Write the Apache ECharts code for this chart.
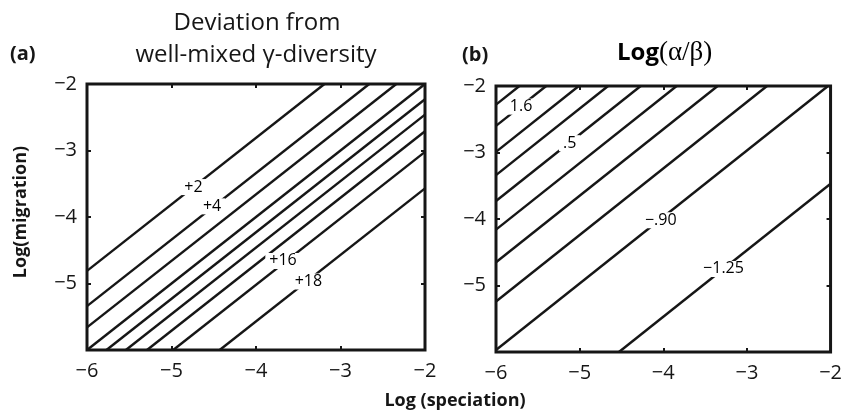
<!DOCTYPE html>
<html>
<head>
<meta charset="utf-8">
<title>Deviation / Log(alpha/beta)</title>
<script src="https://cdn.jsdelivr.net/npm/echarts@6/dist/echarts.min.js"></script>
<style>
  html, body { margin: 0; padding: 0; background: #fff; }
  #chart { width: 845px; height: 415px; }
</style>
</head>
<body>
<div id="chart"></div>
<script>
// axis ticks (log units), both panels
const ticks = [-6, -5, -4, -3, -2];

// panel (a): contour lines, endpoints [x, y]
const devLines = [
  [[-6, -4.81], [-3.19, -2]],
  [[-6, -5.34], [-2.66, -2]],
  [[-6, -5.66], [-2.34, -2]],
  [[-6, -6], [-2, -2]],
  [[-5.77, -6], [-2, -2.23]],
  [[-5.54, -6], [-2, -2.46]],
  [[-5.29, -6], [-2, -2.71]],
  [[-4.98, -6], [-2, -3.02]],
  [[-4.43, -6], [-2, -3.57]]
];
const devLabels = ["+2", "+4", "+16", "+18"];
const devLabelPos = [[-4.74, -3.55], [-4.52, -3.84], [-3.68, -4.66], [-3.38, -4.97]];

// panel (b): contour lines of log(alpha/beta)
const ratioLines = [
  [[-6, -2.28], [-5.72, -2]],
  [[-6, -2.60], [-5.40, -2]],
  [[-6, -2.99], [-5.01, -2]],
  [[-6, -3.34], [-4.66, -2]],
  [[-6, -3.73], [-4.27, -2]],
  [[-6, -4.16], [-3.84, -2]],
  [[-6, -4.65], [-3.35, -2]],
  [[-6, -5.24], [-2.76, -2]],
  [[-6, -5.97], [-2.03, -2]],
  [[-4.53, -6], [-2, -3.47]]
];
const ratioLabels = ["1.6", ".5", "\u2212.90", "\u22121.25"];
const ratioLabelPos = [[-5.70, -2.31], [-5.12, -2.86], [-4.03, -4.02], [-3.28, -4.75]];

const ink = "#161616";
const font = "'Open Sans', 'Noto Sans', sans-serif";

function tickText(v) {
  return v < 0 ? "\u2212" + Math.abs(v) : String(v);
}

function makeAxis(grid, pos, labels, hideMin) {
  return {
    gridIndex: grid,
    type: "value",
    position: pos,
    min: ticks[0],
    max: ticks[ticks.length - 1],
    interval: 1,
    axisLine: { show: false },
    axisTick: { show: true, inside: true, length: 4, lineStyle: { color: ink, width: 2 } },
    splitLine: { show: false },
    axisLabel: {
      show: labels,
      fontSize: 20,
      color: ink,
      fontFamily: font,
      margin: pos === "bottom" ? 11 : 10,
      formatter: v => (hideMin && v === ticks[0] ? "" : tickText(v))
    }
  };
}

function lineSeries(lines, axis) {
  return lines.map(pts => ({
    type: "line",
    xAxisIndex: axis,
    yAxisIndex: axis,
    data: pts,
    symbol: "none",
    silent: true,
    lineStyle: { color: ink, width: 2.4 }
  }));
}

function labelSeries(texts, pos, axis) {
  return {
    type: "scatter",
    xAxisIndex: axis,
    yAxisIndex: axis,
    symbolSize: 1,
    itemStyle: { color: "#fff", opacity: 0 },
    silent: true,
    z: 5,
    data: texts.map((t, i) => ({ name: t, value: pos[i] })),
    label: {
      show: true,
      position: "inside",
      formatter: p => p.name,
      fontSize: 16,
      color: "#000",
      opacity: 1,
      textBorderWidth: 0,
      fontFamily: font,
      backgroundColor: "#fff",
      padding: [0, 4]
    }
  };
}

const chart = echarts.init(document.getElementById("chart"));
chart.setOption({
  animation: false,
  backgroundColor: "#fff",
  grid: [
    { left: 87, top: 84, width: 338, height: 266, show: true, borderWidth: 3, borderColor: ink },
    { left: 496, top: 86, width: 337, height: 266, show: true, borderWidth: 3, borderColor: ink }
  ],
  xAxis: [
    makeAxis(0, "bottom", true, false),
    makeAxis(0, "top", false, false),
    makeAxis(1, "bottom", true, false),
    makeAxis(1, "top", false, false)
  ],
  yAxis: [
    makeAxis(0, "left", true, true),
    makeAxis(0, "right", false, false),
    makeAxis(1, "left", true, true),
    makeAxis(1, "right", false, false)
  ],
  series: [
    ...lineSeries(devLines, 0),
    ...lineSeries(ratioLines, 2),
    labelSeries(devLabels, devLabelPos, 0),
    labelSeries(ratioLabels, ratioLabelPos, 2)
  ],
  graphic: [
    { type: "text", x: 257, y: 23, style: { text: "Deviation from", font: "24px " + font, fill: ink, textAlign: "center", textVerticalAlign: "middle" } },
    { type: "text", x: 256, y: 55, style: { text: "well-mixed \u03b3-diversity", font: "24px " + font, fill: ink, textAlign: "center", textVerticalAlign: "middle" } },
    { type: "text", x: 10, y: 54, style: { text: "(a)", font: "bold 20px " + font, fill: ink, textVerticalAlign: "middle" } },
    { type: "text", x: 462, y: 55, style: { text: "(b)", font: "bold 20px " + font, fill: ink, textVerticalAlign: "middle" } },
    {
      type: "text", x: 617, y: 53,
      style: {
        text: "{a|Log}{b|(\u03b1/\u03b2)}",
        textVerticalAlign: "middle",
        rich: {
          a: { fontFamily: font, fontWeight: "bold", fontSize: 24, color: ink },
          b: { fontFamily: "'Liberation Serif', 'DejaVu Serif', serif", fontSize: 27, color: ink }
        }
      }
    },
    { type: "text", x: 21, y: 212, rotation: Math.PI / 2, style: { text: "Log(migration)", font: "bold 18px " + font, fill: ink, textAlign: "center", textVerticalAlign: "middle" } },
    { type: "text", x: 455, y: 401, style: { text: "Log (speciation)", font: "bold 18px " + font, fill: ink, textAlign: "center", textVerticalAlign: "middle" } }
  ]
});
</script>
</body>
</html>
